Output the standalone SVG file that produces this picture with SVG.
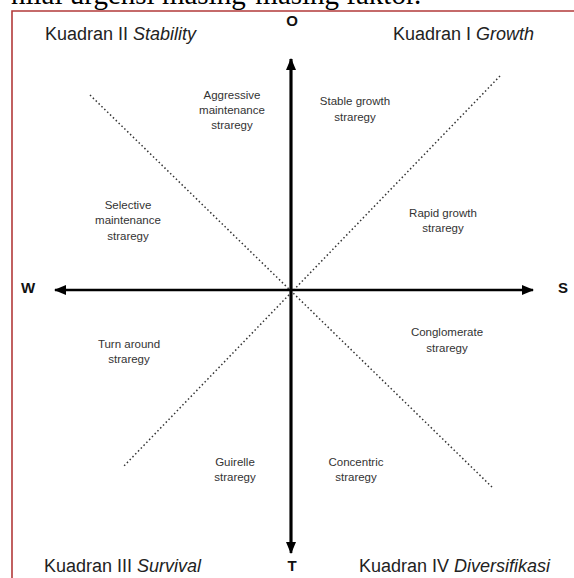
<svg xmlns="http://www.w3.org/2000/svg" width="574" height="578" viewBox="0 0 574 578">
<style>
.q{font-family:"Liberation Sans",Arial,sans-serif;font-size:18px;fill:#222}
.s{font-family:"Liberation Sans",Arial,sans-serif;font-size:11.5px;fill:#333;text-anchor:middle}
.ax{font-family:"Liberation Sans",Arial,sans-serif;font-size:15px;font-weight:bold;fill:#111;text-anchor:middle}
.axis{stroke:#000;stroke-width:2.7;fill:none}
.dot{stroke:#333;stroke-width:1.5;stroke-dasharray:1.5 2.5;fill:none}
</style>
<defs>
<marker id="ah" viewBox="0 0 12 10" refX="11" refY="5" markerWidth="12" markerHeight="10" markerUnits="userSpaceOnUse" orient="auto">
<path d="M0,0 L12,5 L0,10 Z" fill="#000"/>
</marker>
</defs>
<rect width="574" height="578" fill="#fff"/>
<text x="11" y="4" font-family="Liberation Serif,serif" font-size="29" fill="#000">nilai urgensi masing-masing faktor.</text>
<path d="M12,578 V11 H574" stroke="#b23a3a" stroke-width="1.6" fill="none"/>
<g id="connectors">
<line class="dot" x1="90" y1="95" x2="493" y2="488"/>
<line class="dot" x1="500" y1="76" x2="123" y2="467"/>
<line class="axis" x1="291" y1="550" x2="291" y2="59" marker-end="url(#ah)"/>
<line class="axis" x1="291" y1="59" x2="291" y2="553" marker-end="url(#ah)"/>
<line class="axis" x1="291" y1="290" x2="533" y2="290" marker-end="url(#ah)"/>
<line class="axis" x1="291" y1="290" x2="55" y2="290" marker-end="url(#ah)"/>
</g>
<g id="axis-O"><text class="ax" x="292" y="26">O</text></g>
<g id="axis-T"><text class="ax" x="292" y="571">T</text></g>
<g id="axis-W"><text class="ax" x="28" y="293">W</text></g>
<g id="axis-S"><text class="ax" x="563" y="293">S</text></g>
<g id="q2"><text class="q" x="45" y="40">Kuadran II <tspan font-style="italic">Stability</tspan></text></g>
<g id="q1"><text class="q" x="393" y="40">Kuadran I <tspan font-style="italic">Growth</tspan></text></g>
<g id="q3"><text class="q" x="44" y="572">Kuadran III <tspan font-style="italic">Survival</tspan></text></g>
<g id="q4"><text class="q" x="359" y="572">Kuadran IV <tspan font-style="italic">Diversifikasi</tspan></text></g>
<g id="aggressive"><text class="s" x="232" y="99">Aggressive</text><text class="s" x="232" y="114">maintenance</text><text class="s" x="232" y="129">straregy</text></g>
<g id="stable"><text class="s" x="355" y="105">Stable growth</text><text class="s" x="355" y="121">straregy</text></g>
<g id="selective"><text class="s" x="128" y="209">Selective</text><text class="s" x="128" y="224">maintenance</text><text class="s" x="128" y="240">straregy</text></g>
<g id="rapid"><text class="s" x="443" y="217">Rapid growth</text><text class="s" x="443" y="232">straregy</text></g>
<g id="turn"><text class="s" x="129" y="348">Turn around</text><text class="s" x="129" y="363">straregy</text></g>
<g id="conglomerate"><text class="s" x="447" y="336">Conglomerate</text><text class="s" x="447" y="352">straregy</text></g>
<g id="guirelle"><text class="s" x="235" y="466">Guirelle</text><text class="s" x="235" y="481">straregy</text></g>
<g id="concentric"><text class="s" x="356" y="466">Concentric</text><text class="s" x="356" y="481">straregy</text></g>
</svg>
